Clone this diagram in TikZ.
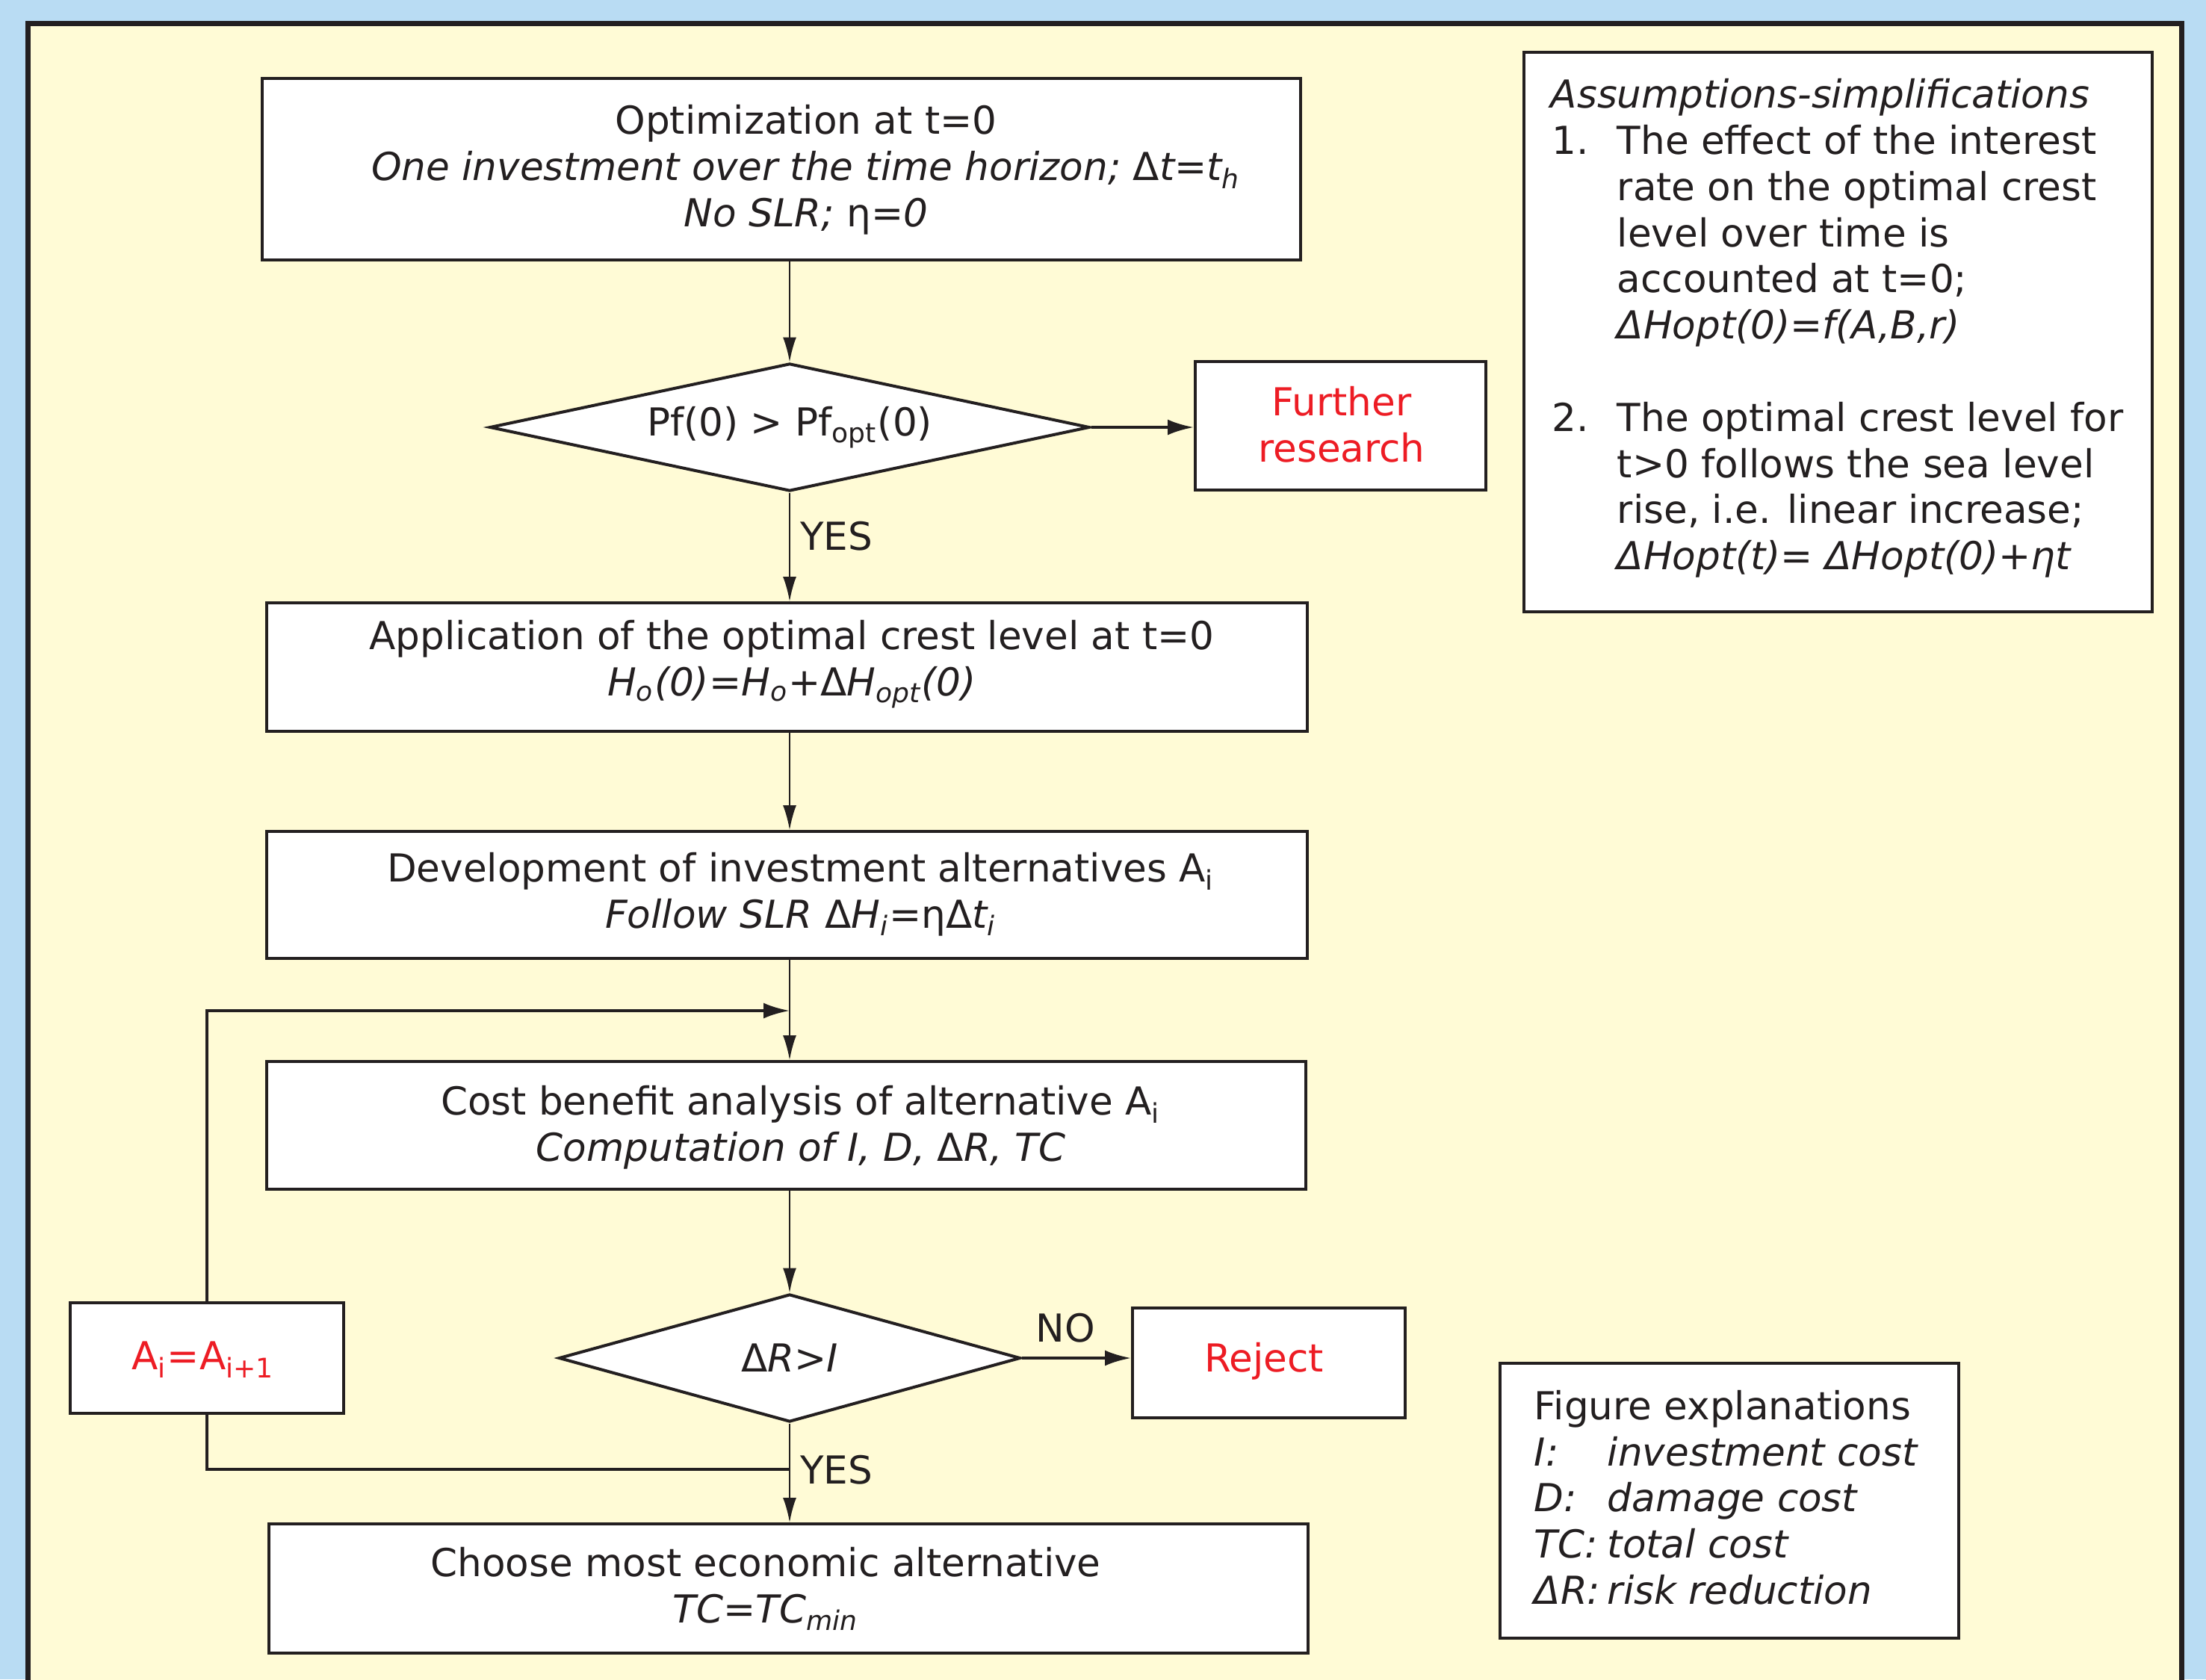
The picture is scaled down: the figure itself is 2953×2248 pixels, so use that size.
\documentclass[tikz,border=0pt]{standalone}
\usepackage{fontspec}
\setmainfont{DejaVu Sans}
\usetikzlibrary{shapes.geometric,arrows.meta}
\definecolor{bgblue}{RGB}{185,220,243}
\definecolor{panel}{RGB}{255,251,214}
\definecolor{ink}{RGB}{35,31,32}
\definecolor{alertred}{RGB}{237,28,36}
\newcommand{\flowfont}{\fontsize{12.9pt}{15.45pt}\selectfont}

\begin{document}
\begin{tikzpicture}[x=0.25pt,y=-0.25pt,
  box/.style={draw=ink,fill=white,line width=1pt,rectangle,inner sep=0pt},
  boxtext/.style={inner sep=0pt,align=center,font=\flowfont,text=ink},
  dec/.style={draw=ink,fill=white,line width=1pt,diamond,inner sep=0pt,align=center,font=\flowfont,text=ink},
  info/.style={draw=ink,fill=white,line width=0.85pt,rectangle,inner sep=0pt},
  thinarr/.style={draw=ink,line width=0.6pt,-{Latex[length=8.25pt,width=4.5pt]}},
  thickarr/.style={draw=ink,line width=1pt,-{Latex[length=8.75pt,width=5.25pt]}},
  thickline/.style={draw=ink,line width=1pt},
  lbl/.style={font=\flowfont,text=ink,inner sep=0pt},
]
\useasboundingbox (0,0) rectangle (2953,2248);
\fill[bgblue] (0,0) rectangle (2953,2248);
\begin{scope}
\clip (0,0) rectangle (2953,2248);
\draw[draw=ink,line width=1.75pt,fill=panel] (37.5,31.5) rectangle (2920,2320);
\end{scope}

% main flow boxes
\node[box,minimum width=347.5pt,minimum height=60.75pt] (b1) at (1046,226.5) {};
\node[boxtext] (b1t) at (1079,227) {Optimization at t=0\\ \itshape One investment over the time horizon; {\upshape Δ}t=t\textsubscript{h}\\ \itshape No SLR; {\upshape η}=0};

\node[dec,aspect=4.7,minimum width=200.75pt,minimum height=42.75pt] (d1) at (1057,572) {Pf(0) > Pf\textsubscript{opt}(0)};

\node[box,minimum width=97.25pt,minimum height=43pt] (fr) at (1794.5,570) {};
\node[boxtext,text=alertred] (frt) at (1796,568) {Further\\research};

\node[box,minimum width=348.25pt,minimum height=43pt] (b2) at (1053,893) {};
\node[boxtext] (b2t) at (1060,889) {Application of the optimal crest level at t=0\\ \itshape H\textsubscript{o}(0)=H\textsubscript{o}+{\upshape Δ}H\textsubscript{opt}(0)};

\node[box,minimum width=348.25pt,minimum height=42.5pt] (b3) at (1053,1198) {};
\node[boxtext] (b3t) at (1072,1197) {Development of investment alternatives A\textsubscript{i}\\ \itshape Follow SLR {\upshape Δ}H\textsubscript{i}={\upshape ηΔ}t\textsubscript{i}};

\node[box,minimum width=347.75pt,minimum height=42.75pt] (b4) at (1052.5,1506.5) {};
\node[boxtext] (b4t) at (1072,1509) {Cost benefit analysis of alternative A\textsubscript{i}\\ \itshape Computation of I, D, {\upshape Δ}R, TC};

\node[dec,aspect=3.6,minimum width=154.5pt,minimum height=42.75pt] (d2) at (1057,1818) {\itshape {\upshape Δ}R>I};

\node[box,minimum width=91.25pt,minimum height=36.75pt] (rj) at (1698.5,1824.5) {};
\node[boxtext,text=alertred] (rjt) at (1692,1822) {Reject};

\node[box,minimum width=91.5pt,minimum height=37pt] (ai) at (277,1818) {};
\node[boxtext,text=alertred] (ait) at (272,1820) {A\textsubscript{i}=A\textsubscript{i+1}};

\node[box,minimum width=347.75pt,minimum height=43.25pt] (b5) at (1055.5,2126.5) {};
\node[boxtext] (b5t) at (1025,2127) {Choose most economic alternative\\ \itshape TC=TC\textsubscript{min}};

% junction coordinates for the loop
\coordinate (jt) at (1057,1353);
\coordinate (jb) at (1057,1967);

% connectors
\draw[thinarr] (b1.south -| d1.north) -- (d1.north);
\draw[thickarr] (d1.east) -- (d1.east -| fr.west);
\draw[thinarr] (d1.south) -- node[lbl,pos=0.4,anchor=west,xshift=3.25pt] {YES} (d1.south |- b2.north);
\draw[thinarr] (b2.south -| d1.south) -- (b3.north -| d1.south);
\draw[thinarr] (b3.south -| d1.south) -- (b4.north -| d1.south);
\draw[thinarr] (b4.south -| d2.north) -- (d2.north);
\draw[thickarr] (d2.east) -- node[lbl,pos=0.4,above=4.75pt] {NO} (d2.east -| rj.west);
\draw[thinarr] (d2.south) -- node[lbl,pos=0.47,anchor=west,xshift=3.25pt] {YES} (d2.south |- b5.north);
\draw[thickarr] (ai.north) |- (jt);
\draw[thickline] (ai.south) |- (jb);

% assumptions box
\node[info,minimum width=210.25pt,minimum height=187.25pt] (asm) at (2460.5,444.5) {};
\node[anchor=north west,inner sep=0pt,font=\flowfont,text=ink] (asmt) at (2075,100.6) {%
\begin{tabular}{@{}p{22.25pt}@{}l@{}}
\multicolumn{2}{@{}l@{}}{\itshape Assumptions-simplifications}\\
\hspace*{0.5pt}1. & The effect of the interest\\
 & rate on the optimal crest\\
 & level over time is\\
 & accounted at t=0;\\
 & \itshape ΔHopt(0)=f(A,B,r)\\
 & \\
\hspace*{0.5pt}2. & The optimal crest level for\\
 & t>0 follows the sea level\\
 & rise, i.e. linear increase;\\
 & \itshape ΔHopt(t)= ΔHopt(0)+ηt
\end{tabular}};

% figure explanations box
\node[info,minimum width=153.5pt,minimum height=92pt] (fig) at (2315,2009) {};
\node[anchor=north west,inner sep=0pt,font=\flowfont,text=ink] (figt) at (2053,1856.3) {%
\begin{tabular}{@{}p{24.5pt}@{}l@{}}
\multicolumn{2}{@{}l@{}}{Figure explanations}\\
\itshape I: & \itshape investment cost\\
\itshape D: & \itshape damage cost\\
\itshape TC: & \itshape total cost\\
\itshape ΔR: & \itshape risk reduction
\end{tabular}};
\end{tikzpicture}
\end{document}
